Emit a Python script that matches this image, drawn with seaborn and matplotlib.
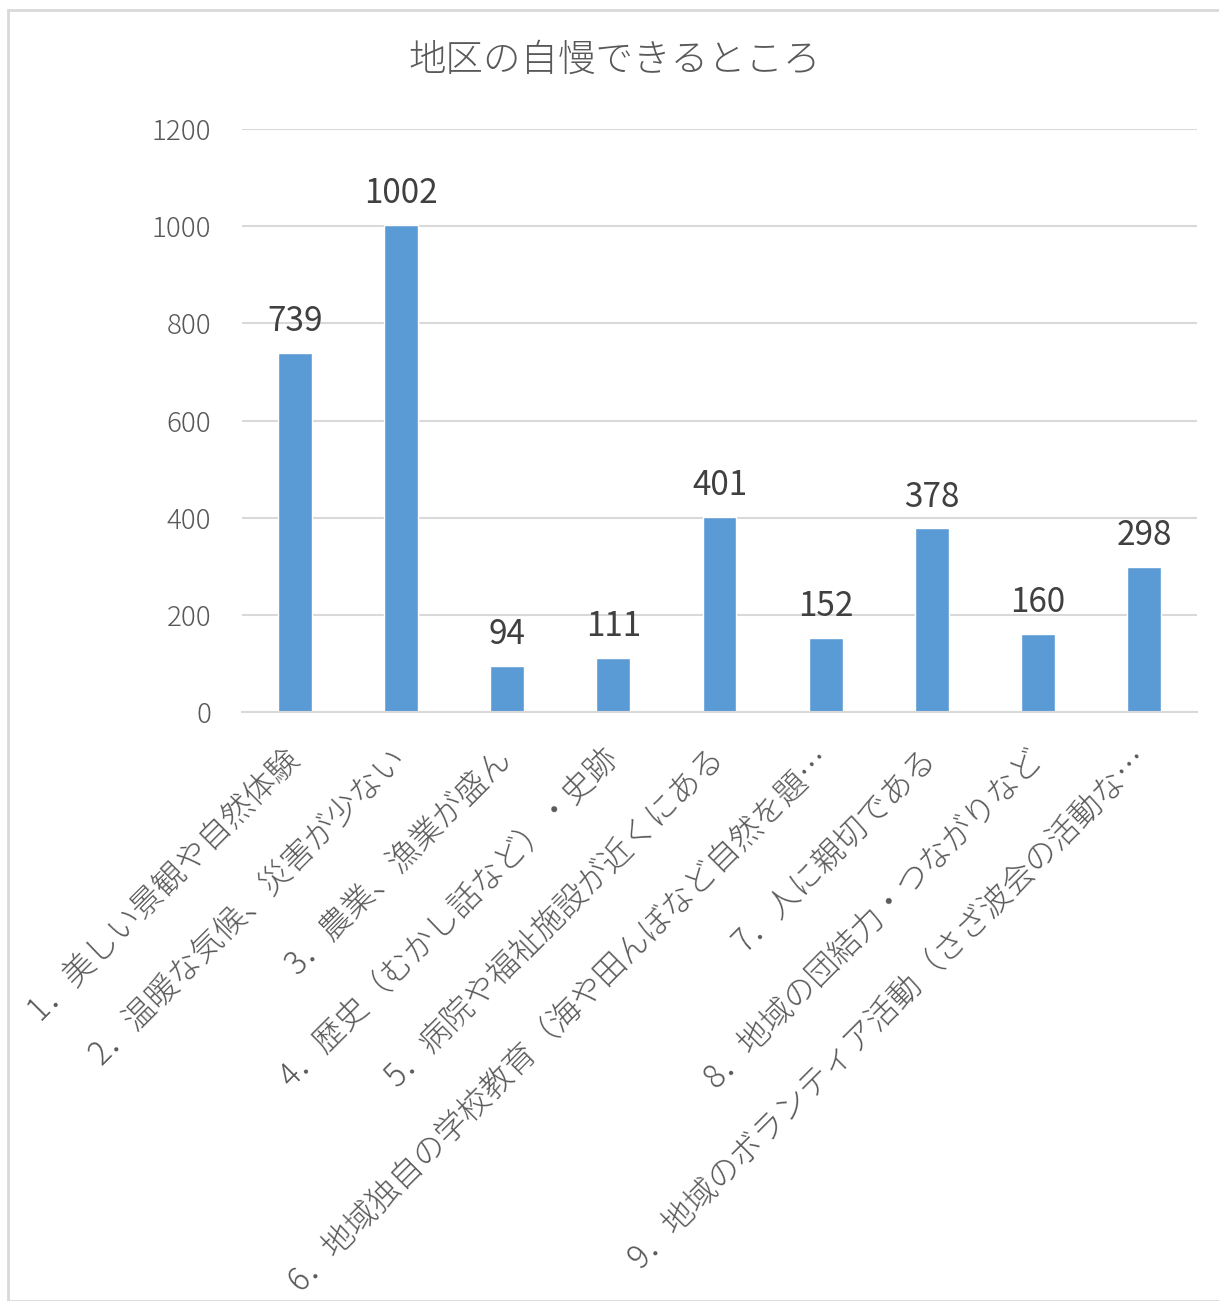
import matplotlib
matplotlib.use('Agg')
import matplotlib.pyplot as plt
from matplotlib.patches import Rectangle
import seaborn as sns
import pandas as pd

# データ
categories = [
    '1．美しい景観や自然体験',
    '2．温暖な気候、災害が少ない',
    '3．農業、漁業が盛ん',
    '4．歴史（むかし話など）・史跡',
    '5．病院や福祉施設が近くにある',
    '6．地域独自の学校教育（海や田んぼなど自然を題…',
    '7．人に親切である',
    '8．地域の団結力・つながりなど',
    '9．地域のボランティア活動（さざ波会の活動な…',
]
counts = [739, 1002, 94, 111, 401, 152, 378, 160, 298]
title = '地区の自慢できるところ'

df = pd.DataFrame({'item': categories, 'count': counts})

sns.set_theme(style='white')
plt.rcParams['font.family'] = ['Noto Sans CJK JP', 'DejaVu Sans']

text_col = '#595959'
grid_col = '#d9d9d9'
bar_col = '#5b9bd5'

fig = plt.figure(figsize=(12.19, 13.01), dpi=100)
ax = fig.add_axes([0.1985, 0.4527, 0.7835, 0.4481])

sns.barplot(data=df, x='item', y='count', color=bar_col, width=0.32,
            saturation=1, ax=ax)

ax.set_ylim(0, 1200)
ax.set_yticks(range(0, 1201, 200))
ax.yaxis.grid(True, color=grid_col, linewidth=1.5)
ax.set_axisbelow(True)
for s in ['top', 'right', 'left']:
    ax.spines[s].set_visible(False)
ax.spines['bottom'].set_color(grid_col)
ax.spines['bottom'].set_linewidth(1.5)

ax.set_xlabel('')
ax.set_ylabel('')
ax.tick_params(axis='y', labelsize=20, colors=text_col, length=0, pad=22)
ax.tick_params(axis='x', labelsize=23, colors=text_col, length=0, pad=30)
plt.setp(ax.get_xticklabels(), rotation=45, ha='right', va='center',
         rotation_mode='anchor', fontweight='light')
plt.setp(ax.get_yticklabels(), fontweight='light')

# 値ラベル
ax.bar_label(ax.containers[0], padding=10, fontsize=24, color='#404040')

fig.text(0.504, 0.954, title, ha='center', va='center', fontsize=27,
         color=text_col, fontweight='light')

# 外枠
fig.patches.append(Rectangle((8 / 1219, 0), 1.0, 1 - 10 / 1301,
                             transform=fig.transFigure, fill=False,
                             edgecolor=grid_col, linewidth=2))

fig.savefig('out.png', dpi=100)
